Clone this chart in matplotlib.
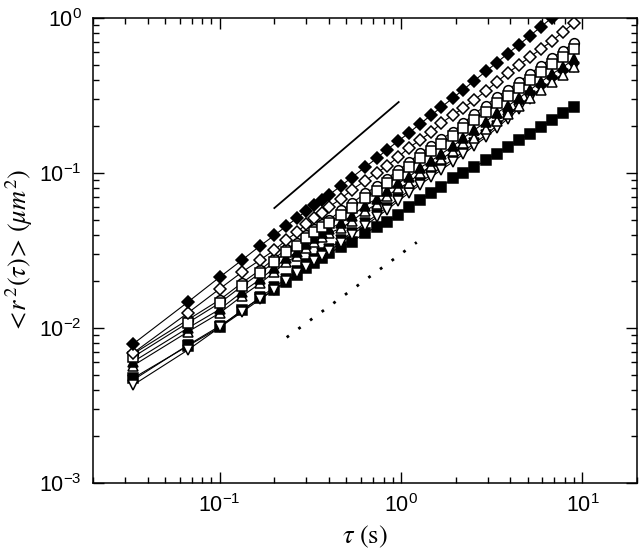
import matplotlib
matplotlib.use("Agg")
import matplotlib.pyplot as plt
from matplotlib.ticker import LogLocator, LogFormatterSciNotation, NullFormatter

plt.rcParams["font.family"] = ["Liberation Sans", "DejaVu Sans"]
plt.rcParams["mathtext.fontset"] = "stix"
plt.rcParams["axes.unicode_minus"] = False

# ---------- data ----------
tau = [0.0333, 0.0667, 0.1, 0.133, 0.167, 0.2, 0.233, 0.267, 0.3, 0.333, 0.367, 0.4,
       0.467, 0.533, 0.633, 0.733, 0.833, 0.967, 1.1, 1.27, 1.47, 1.67, 1.93,
       2.2, 2.53, 2.93, 3.37, 3.87, 4.47, 5.13, 5.9, 6.8, 7.8, 9.0]

msd_fill_diamond = [0.00789, 0.0147, 0.0213, 0.0275, 0.0339, 0.0396, 0.0455, 0.0513, 0.0569,
                    0.0624, 0.0673, 0.0721, 0.0828, 0.0933, 0.109, 0.1245, 0.141, 0.161,
                    0.181, 0.207, 0.237, 0.266, 0.305, 0.344, 0.394, 0.452, 0.515, 0.589,
                    0.673, 0.767, 0.877, 1.005, 1.143, 1.309]
msd_open_diamond = [0.00690, 0.0125, 0.0179, 0.0230, 0.0275, 0.0318, 0.0370, 0.0416, 0.0468,
                    0.0513, 0.0556, 0.0603, 0.0684, 0.0776, 0.0891, 0.100, 0.111, 0.127,
                    0.145, 0.163, 0.184, 0.210, 0.237, 0.262, 0.296, 0.338, 0.386, 0.442,
                    0.498, 0.560, 0.631, 0.711, 0.813, 0.929]
msd_open_circle = [0.00681, 0.0113, 0.0152, 0.0196, 0.0237, 0.0280, 0.0324, 0.0355, 0.0399,
                   0.0437, 0.0468, 0.0497, 0.0574, 0.0636, 0.0738, 0.0820, 0.0921, 0.104,
                   0.117, 0.134, 0.149, 0.165, 0.185, 0.209, 0.241, 0.272, 0.310, 0.344,
                   0.387, 0.436, 0.492, 0.553, 0.614, 0.692]
msd_open_square = [0.00650, 0.0108, 0.0145, 0.0187, 0.0226, 0.0267, 0.0309, 0.0339, 0.0381,
                   0.0417, 0.0447, 0.0475, 0.0536, 0.0594, 0.0690, 0.0766, 0.0861, 0.0970,
                   0.109, 0.125, 0.139, 0.154, 0.173, 0.195, 0.220, 0.248, 0.283, 0.314,
                   0.353, 0.398, 0.449, 0.505, 0.560, 0.631]
msd_fill_triangle = [0.00606, 0.0100, 0.0132, 0.0171, 0.0206, 0.0244, 0.0282, 0.0309, 0.0347,
                     0.0380, 0.0408, 0.0433, 0.0478, 0.0529, 0.0615, 0.0683, 0.0767, 0.0864,
                     0.0938, 0.108, 0.120, 0.133, 0.149, 0.168, 0.189, 0.214, 0.244, 0.270,
                     0.304, 0.343, 0.387, 0.435, 0.482, 0.543]
msd_open_triangle = [0.00572, 0.00944, 0.0125, 0.0161, 0.0194, 0.0230, 0.0266, 0.0292, 0.0328,
                     0.0359, 0.0385, 0.0409, 0.0441, 0.0488, 0.0568, 0.0630, 0.0708, 0.0797,
                     0.0866, 0.0997, 0.111, 0.123, 0.138, 0.155, 0.168, 0.191, 0.217, 0.241,
                     0.271, 0.306, 0.345, 0.388, 0.429, 0.484]
msd_open_down = [0.00429, 0.00721, 0.0101, 0.0127, 0.0153, 0.0177, 0.0201, 0.0225, 0.0248,
                 0.0270, 0.0293, 0.0314, 0.0356, 0.0398, 0.0458, 0.0518, 0.0577, 0.0661,
                 0.0741, 0.0841, 0.0944, 0.105, 0.118, 0.132, 0.150, 0.170, 0.195, 0.224,
                 0.260, 0.302]
msd_fill_down = [0.00462, 0.00776, 0.0103, 0.0129, 0.0158, 0.0183, 0.0208, 0.0233, 0.0257,
                 0.0279, 0.0303, 0.0325, 0.0368, 0.0412, 0.0474, 0.0536, 0.0597, 0.0684,
                 0.0767, 0.0870, 0.0977, 0.109, 0.122, 0.137, 0.155, 0.176, 0.202, 0.232,
                 0.269, 0.313, 0.350, 0.392, 0.435, 0.482]
msd_fill_square = [0.00475, 0.00766, 0.0101, 0.0131, 0.0156, 0.0176, 0.0198, 0.0220, 0.0244,
                   0.0263, 0.0283, 0.0305, 0.0333, 0.0359, 0.0410, 0.0449, 0.0483, 0.0536,
                   0.0604, 0.0670, 0.0743, 0.0813, 0.0929, 0.100, 0.109, 0.121, 0.133, 0.147,
                   0.163, 0.179, 0.198, 0.220, 0.244, 0.267]

# guide lines
slope1_x = [0.2, 0.97]
slope1_y = [0.0594, 0.287]
dotted_x = [0.234, 1.22]
dotted_y = [0.0087, 0.0357]

# ---------- figure ----------
fig = plt.figure(figsize=(6.4, 5.56), dpi=100)
ax = fig.add_axes([93 / 640, 1 - 483 / 556, (637 - 93) / 640, (483 - 18) / 556])

# (y, marker, size, filled) in drawing order
series = [
    (msd_fill_down, "v", 7.8, True),
    (msd_fill_square, "s", 6.5, True),
    (msd_open_down, "v", 7.8, False),
    (msd_open_triangle, "^", 7.8, False),
    (msd_fill_triangle, "^", 7.8, True),
    (msd_open_circle, "o", 7.0, False),
    (msd_open_square, "s", 6.5, False),
    (msd_open_diamond, "D", 6.0, False),
    (msd_fill_diamond, "D", 6.0, True),
]
for y, mk, ms, filled in series:
    ax.plot(tau[:len(y)], y, "-", color="black", lw=0.8, marker=mk, ms=ms,
            mfc="black" if filled else "white", mec="black", mew=1.1, clip_on=True)

ax.plot(slope1_x, slope1_y, "-", color="black", lw=1.3)
ax.plot(dotted_x, dotted_y, color="black", lw=2.0, linestyle=(0, (1, 4.2)))

ax.set_xscale("log")
ax.set_yscale("log")
ax.set_xlim(0.02, 20)
ax.set_ylim(1e-3, 1)

for a in (ax.xaxis, ax.yaxis):
    a.set_major_locator(LogLocator(base=10, numticks=10))
    a.set_minor_locator(LogLocator(base=10, subs=range(2, 10), numticks=10))
    a.set_major_formatter(LogFormatterSciNotation())
    a.set_minor_formatter(NullFormatter())

ax.tick_params(which="both", direction="in", top=True, right=True, width=1.0,
               labelsize=15.5, colors="black")
ax.tick_params(which="major", length=8, pad=8)
ax.tick_params(which="minor", length=4.5)
for s in ax.spines.values():
    s.set_linewidth(1.1)

ax.set_xlabel(r"$\tau\ (\mathrm{s})$", fontsize=19, labelpad=5)
ax.set_ylabel(r"$<\!r^{\,2}(\tau)\!>\,(\mu m^{2})$", fontsize=19, labelpad=3)

fig.savefig("out.png", dpi=100)
